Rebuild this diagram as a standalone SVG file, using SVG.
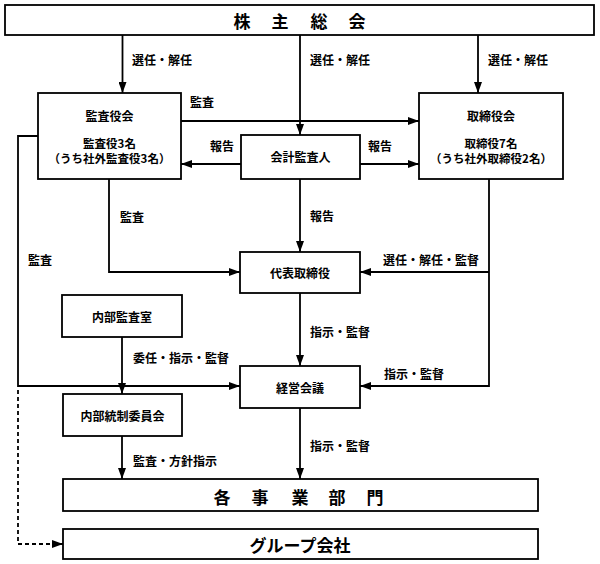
<svg xmlns="http://www.w3.org/2000/svg" width="600" height="564" viewBox="0 0 600 564">
<style>
.box{fill:#fff;stroke:#000;stroke-width:1.8}
.c{fill:none;stroke:#000;stroke-width:1.8}
.d{fill:none;stroke:#000;stroke-width:1.8;stroke-dasharray:4 3}
text{font-family:"Noto Sans CJK JP","Liberation Sans",sans-serif;font-weight:bold;fill:#000;dominant-baseline:central}
.n{font-size:12px;text-anchor:middle}
.s{font-size:11.5px;text-anchor:middle}
.l{font-size:12px;text-anchor:start}
.big{font-size:17px;text-anchor:middle}
</style>
<defs>
<marker id="ah" markerWidth="11" markerHeight="8" refX="11" refY="4" orient="auto" markerUnits="userSpaceOnUse">
<path d="M0,0 L11,4 L0,8 z" fill="#000"/>
</marker>
</defs>
<g id="connectors">
<path class="c" d="M122.5,35 V93" marker-end="url(#ah)"/>
<path class="c" d="M300,35 V135" marker-end="url(#ah)"/>
<path class="c" d="M478,35 V93" marker-end="url(#ah)"/>
<path class="c" d="M181,121 H419" marker-end="url(#ah)"/>
<path class="c" d="M241,164 H181" marker-end="url(#ah)"/>
<path class="c" d="M360,164 H419" marker-end="url(#ah)"/>
<path class="c" d="M300,179 V252" marker-end="url(#ah)"/>
<path class="c" d="M109,179 V272 H240" marker-end="url(#ah)"/>
<path class="c" d="M489,179 V386 H360" marker-end="url(#ah)"/>
<path class="c" d="M489,272 H360" marker-end="url(#ah)"/>
<path class="c" d="M38,136 H18 V386 H240" marker-end="url(#ah)"/>
<path class="c" d="M122,337 V394" marker-end="url(#ah)"/>
<path class="c" d="M300,293 V366" marker-end="url(#ah)"/>
<path class="c" d="M122,436 V479" marker-end="url(#ah)"/>
<path class="c" d="M300,408 V479" marker-end="url(#ah)"/>
<path class="d" d="M18,390 V544 H63" marker-end="url(#ah)"/>
</g>
<g id="labels">
<text class="l" x="132" y="59">選任・解任</text>
<text class="l" x="310" y="59">選任・解任</text>
<text class="l" x="488" y="59">選任・解任</text>
<text class="l" x="190" y="101">監査</text>
<text class="l" x="210" y="145">報告</text>
<text class="l" x="368" y="145">報告</text>
<text class="l" x="120" y="216">監査</text>
<text class="l" x="310" y="215">報告</text>
<text class="l" x="28" y="259">監査</text>
<text class="l" x="383" y="259">選任・解任・監督</text>
<text class="l" x="310" y="331">指示・監督</text>
<text class="l" x="133" y="357">委任・指示・監督</text>
<text class="l" x="384" y="373">指示・監督</text>
<text class="l" x="310" y="445">指示・監督</text>
<text class="l" x="133" y="460">監査・方針指示</text>
</g>
<g id="shareholders">
<rect class="box" x="5" y="5" width="589" height="30"/>
<text class="big" x="242 280 319 357" y="20">株主総会</text>
</g>
<g id="audit-board">
<rect class="box" x="38" y="93" width="143" height="86"/>
<text class="n" x="109.5" y="115">監査役会</text>
<text class="s" x="109.5" y="143">監査役3名</text>
<text class="s" x="109.5" y="158">（うち社外監査役3名）</text>
</g>
<g id="board">
<rect class="box" x="419" y="93" width="144" height="86"/>
<text class="n" x="491" y="115">取締役会</text>
<text class="s" x="491" y="143">取締役7名</text>
<text class="s" x="491" y="158">（うち社外取締役2名）</text>
</g>
<g id="accounting-auditor">
<rect class="box" x="241" y="135" width="119" height="44"/>
<text class="n" x="300.5" y="156">会計監査人</text>
</g>
<g id="representative">
<rect class="box" x="240" y="252" width="120" height="41"/>
<text class="n" x="300" y="272">代表取締役</text>
</g>
<g id="internal-audit">
<rect class="box" x="62" y="295" width="120" height="42"/>
<text class="n" x="122" y="316">内部監査室</text>
</g>
<g id="management-meeting">
<rect class="box" x="240" y="366" width="120" height="42"/>
<text class="n" x="300" y="387">経営会議</text>
</g>
<g id="internal-control">
<rect class="box" x="63" y="394" width="119" height="42"/>
<text class="n" x="122.5" y="415">内部統制委員会</text>
</g>
<g id="divisions">
<rect class="box" x="63" y="479" width="475" height="32"/>
<text class="big" x="222 260 300 337 375" y="496">各事業部門</text>
</g>
<g id="group">
<rect class="box" x="63" y="529" width="475" height="30"/>
<text class="big" x="300" y="544" font-size="18">グループ会社</text>
</g>
</svg>
